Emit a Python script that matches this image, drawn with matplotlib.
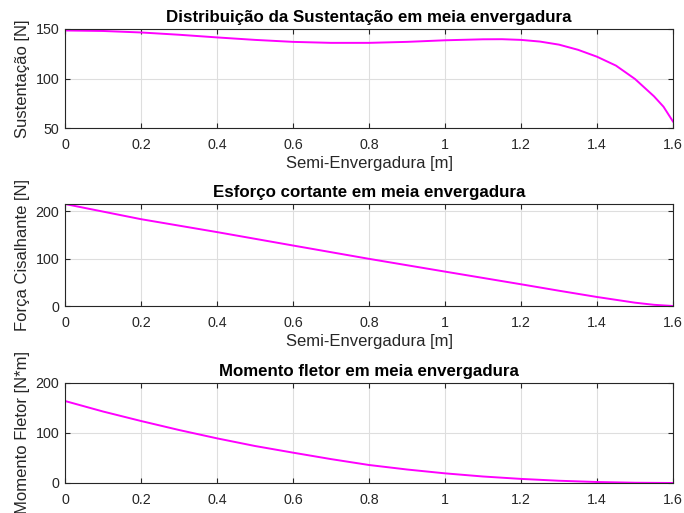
import matplotlib
matplotlib.use("Agg")
import matplotlib.pyplot as plt

plt.rcParams['font.family'] = ['Liberation Sans', 'DejaVu Sans']

# Lift distribution along the half span
x_lift = [0.0, 0.1, 0.2, 0.3, 0.4, 0.5, 0.6, 0.7, 0.8, 0.9, 1.0, 1.1, 1.15,
          1.2, 1.25, 1.3, 1.35, 1.4, 1.45, 1.5, 1.55, 1.575, 1.6]
lift = [148.5, 148.0, 146.5, 144.2, 141.5, 139.0, 137.0, 136.0, 136.0, 137.0,
        138.6, 139.6, 139.7, 139.0, 137.3, 134.2, 129.0, 122.0, 113.0, 99.5,
        82.0, 71.5, 56.5]

# Shear force
x_shear = [0.0, 0.2, 0.4, 0.6, 0.8, 1.0, 1.2, 1.3, 1.4, 1.5, 1.55, 1.6]
shear = [215.0, 183.0, 155.8, 127.5, 99.4, 72.5, 45.8, 32.2, 19.0, 7.0, 2.5, 0.0]

# Bending moment
x_moment = [0.0, 0.1, 0.2, 0.3, 0.4, 0.5, 0.6, 0.7, 0.8, 0.9, 1.0, 1.1, 1.2,
            1.3, 1.4, 1.5, 1.6]
moment = [164.0, 143.0, 124.0, 106.0, 89.3, 74.0, 60.7, 47.8, 36.0, 27.0,
          19.3, 13.0, 8.2, 4.5, 2.0, 0.5, 0.0]

xticks = [0, 0.2, 0.4, 0.6, 0.8, 1, 1.2, 1.4, 1.6]
xticklabels = ['0', '0.2', '0.4', '0.6', '0.8', '1', '1.2', '1.4', '1.6']

W, H = 684, 513
fig = plt.figure(figsize=(W / 100, H / 100), dpi=100)
fig.patch.set_facecolor('white')

dark = '#262626'
grid_c = '#dedede'
mag = '#ff00ff'


def make_axes(top_px, bottom_px):
    left_px, right_px = 65, 673
    return fig.add_axes([left_px / W, 1 - bottom_px / H,
                         (right_px - left_px) / W, (bottom_px - top_px) / H])


def style(ax, ylim, yticks, title, ylabel, xlabel=None):
    ax.set_xlim(0, 1.6)
    ax.set_ylim(*ylim)
    ax.set_xticks(xticks)
    ax.set_xticklabels(xticklabels)
    ax.set_yticks(yticks)
    ax.grid(True, color=grid_c, linewidth=0.8)
    ax.set_axisbelow(True)
    for s in ax.spines.values():
        s.set_color(dark)
        s.set_linewidth(0.8)
    ax.tick_params(direction='in', length=3.5, width=0.8, colors=dark,
                   labelsize=10.3, top=True, right=True)
    ax.tick_params(axis='x', pad=7)
    ax.tick_params(axis='y', pad=4)
    ax.set_title(title, fontsize=12.2, fontweight='bold', color='black', pad=5)
    ax.set_ylabel(ylabel, fontsize=12, color=dark)
    ax.yaxis.set_label_coords(-0.058, 0.5)
    if xlabel:
        ax.set_xlabel(xlabel, fontsize=12, color=dark, labelpad=3)


ax1 = make_axes(29, 128)
ax1.plot(x_lift, lift, color=mag, linewidth=1.4)
style(ax1, (50, 150), [50, 100, 150],
      'Distribuição da Sustentação em meia envergadura',
      'Sustentação [N]', 'Semi-Envergadura [m]')

ax2 = make_axes(204, 306)
ax2.plot(x_shear, shear, color=mag, linewidth=1.4)
style(ax2, (0, 215), [0, 100, 200],
      'Esforço cortante em meia envergadura',
      'Força Cisalhante [N]', 'Semi-Envergadura [m]')

ax3 = make_axes(383, 483)
ax3.plot(x_moment, moment, color=mag, linewidth=1.4)
style(ax3, (0, 200), [0, 100, 200],
      'Momento fletor em meia envergadura',
      'Momento Fletor [N*m]')

fig.savefig('out.png', dpi=100)
